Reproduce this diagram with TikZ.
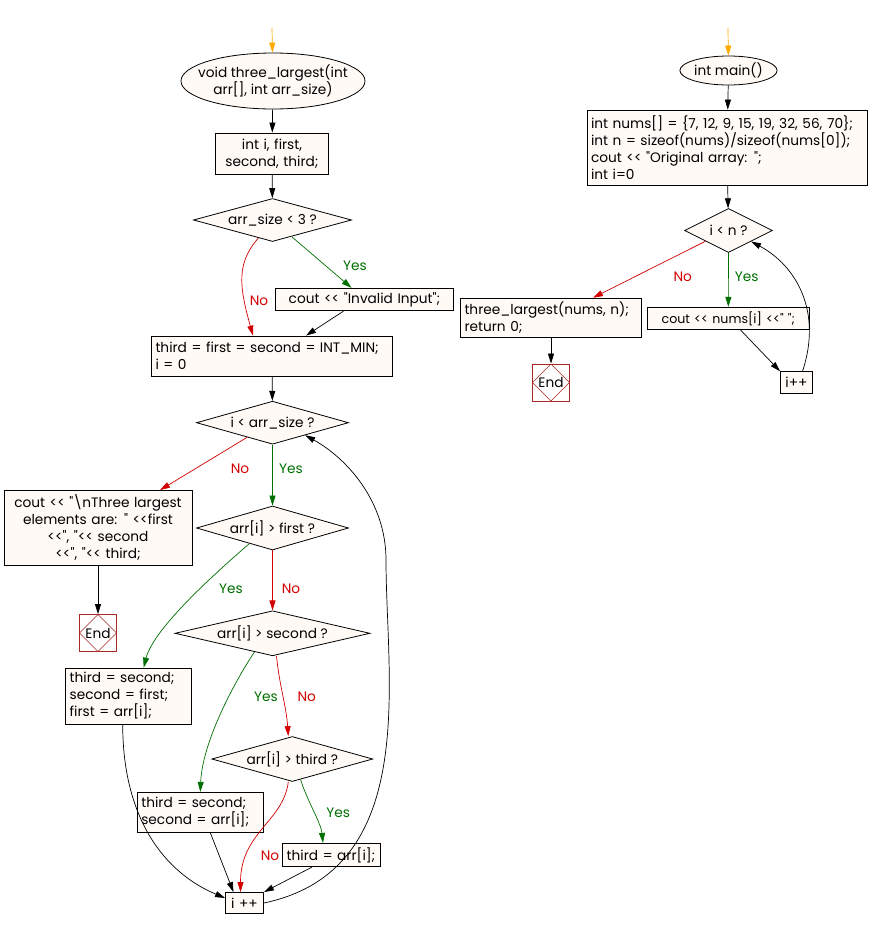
\documentclass[tikz,border=0pt]{standalone}
\usepackage{fontspec}
\setmainfont{Poppins}[Ligatures=TeXOff]
\usepackage{tikz}
\usetikzlibrary{shapes.geometric,arrows.meta}

\definecolor{boxfill}{RGB}{255,250,245}
\definecolor{yesgreen}{RGB}{0,110,0}
\definecolor{nored}{RGB}{210,0,0}
\definecolor{startorange}{RGB}{255,170,0}
\definecolor{endred}{RGB}{170,40,40}

\begin{document}
\begin{tikzpicture}[x=1pt, y=-1pt, font=\fontsize{13.7}{17}\selectfont,
    box/.style={draw, fill=boxfill, line width=0.8pt, inner sep=4pt, align=left},
    cond/.style={diamond, draw, fill=boxfill, line width=0.8pt, inner xsep=0pt, inner ysep=-3pt, aspect=4},
    ell/.style={ellipse, draw, fill=boxfill, line width=0.8pt, inner sep=0pt, align=center},
    endbox/.style={draw=endred, fill=white, line width=0.8pt, minimum width=37, minimum height=37, inner sep=0pt,
        path picture={\draw[endred, line width=0.5pt] (path picture bounding box.north) -- (path picture bounding box.east)
            -- (path picture bounding box.south) -- (path picture bounding box.west) -- cycle;}},
    flow/.style={-{Triangle[length=10pt,width=6pt]}, line width=0.7pt},
    yesline/.style={yesgreen},
    noline/.style={nored},
    startline/.style={startorange},
    yeslab/.style={text=yesgreen},
    nolab/.style={text=nored}]

    \useasboundingbox (0,0) rectangle (872,929);

    \coordinate (top1) at (272,28);
    \node[ell, minimum width=184, minimum height=56, inner xsep=-12pt] (fn) at (273,81) {void three\_largest(int\\arr[], int arr\_size)};
    \node[box, text width=105, minimum height=41, align=center] (decl) at (272,153.5) {int i, first,\\second, third;};
    \node[cond, minimum width=158, minimum height=43] (chk) at (272.5,220) {arr\_size < 3 ?};
    \node[box, text width=170, minimum height=21, align=center] (inval) at (364.5,299.5) {cout << "Invalid Input";};
    \node[box, text width=233, minimum height=40] (init) at (272,356) {third = first = second = INT\_MIN;\\i = 0};
    \node[cond, minimum width=152, minimum height=43] (loop) at (272.5,422.7) {i < arr\_size ?};
    \node[box, text width=180, minimum height=75, align=center] (out) at (98,528)
        {cout << "\textbackslash nThree largest\\elements are: " <<first\\<<", "<< second\\<<", "<< third;};
    \node[endbox] (end1) at (98,633) {End};
    \node[cond, minimum width=152, minimum height=44] (cfirst) at (272.5,528) {arr[i] > first ?};
    \node[cond, minimum width=195, minimum height=45] (csecond) at (272.5,633.3) {arr[i] > second ?};
    \node[box, text width=118, minimum height=56] (upd1) at (128.7,696) {third = second;\\second = first;\\first = arr[i];};
    \node[cond, minimum width=161, minimum height=45] (cthird) at (292.3,759) {arr[i] > third ?};
    \node[box, text width=118, minimum height=40] (upd2) at (200.3,812.3) {third = second;\\second = arr[i];};
    \node[box, text width=94, inner xsep=2pt, minimum height=21.5, align=center] (upd3) at (331,855) {third = arr[i];};
    \node[box, text width=30, minimum height=21, align=center] (inc) at (244.5,903) {i ++};
    \coordinate (back) at (386,560);

    \coordinate (top2) at (728,28);
    \node[ell, minimum width=83, minimum height=29] (main) at (728.5,70.5) {int main()};
    \node[box, text width=272, minimum height=75] (init2) at (727,147.5)
        {int nums[] = \{7, 12, 9, 15, 19, 32, 56, 70\};\\int n = sizeof(nums)/sizeof(nums[0]);\\cout << "Original array: ";\\int i=0};
    \node[cond, minimum width=88, minimum height=44] (ltn) at (728.5,230.5) {i < n ?};
    \node[box, text width=173, minimum height=39] (call) at (551,318) {three\_largest(nums, n);\\return 0;};
    \node[endbox] (end2) at (551,382.5) {End};
    \node[box, text width=154, minimum height=21, align=center, font=\fontsize{12.6}{17}\selectfont] (print) at (728.3,318.3) {cout << nums[i] <<" ";};
    \node[box, text width=24, minimum height=21.6, align=center] (inc2) at (796.5,382.5) {i++};

    \draw[flow, startline] (top1) -- (fn);
    \draw[flow] (fn) -- (decl);
    \draw[flow] (decl) -- (chk);
    \draw[flow, yesline] (chk.-41) -- ([xshift=-13]inval.north);
    \draw[flow, noline] (chk.-128) .. controls +(-22,25) and +(-14,-50) .. ([xshift=-19]init.north);
    \draw[flow] ([xshift=-21]inval.south) -- ([xshift=34]init.north);
    \draw[flow] (init) -- (loop);
    \draw[flow, noline] (loop.-150) -- ([xshift=62]out.north);
    \draw[flow, yesline] (loop) -- (cfirst);
    \draw[flow] (out) -- (end1);
    \draw[flow, yesline] (cfirst.-146) .. controls +(-30,26) and +(10,-40) .. ([xshift=15]upd1.north);
    \draw[flow, noline] (cfirst) -- (csecond);
    \draw[flow, yesline] (csecond.-134) .. controls +(-20,30) and +(2,-50) .. (upd2.north);
    \draw[flow, noline] ([xshift=4]csecond.south) .. controls +(3,30) and +(-2,-30) .. ([xshift=-4]cthird.north);
    \draw[flow, yesline] (cthird.-68) .. controls +(6,20) and +(-2,-20) .. ([xshift=-8]upd3.north);
    \draw[flow, noline] ([xshift=-4]cthird.south) .. controls +(-5,40) and +(0,-60) .. ([xshift=-4]inc.north);
    \draw[flow] ([xshift=-6]upd1.south) .. controls +(0,95) and +(-60,-25) .. ([yshift=5]inc.west);
    \draw[flow] ([xshift=10]upd2.south) -- ([xshift=-11]inc.north);
    \draw[flow] ([xshift=-19]upd3.south) -- (inc.north east);
    \draw[flow] (inc.east) .. controls +(157,-33) and +(0,120) .. (back)
        .. controls +(0,-60) and +(40,22) .. (loop.-21);

    \draw[flow, startline] (top2) -- (main);
    \draw[flow] (main) -- (init2);
    \draw[flow] (init2) -- (ltn);
    \draw[flow, noline] (ltn.-155) -- ([xshift=42]call.north);
    \draw[flow, yesline] (ltn) -- (print);
    \draw[flow] (call) -- (end2);
    \draw[flow] ([xshift=12]print.south) -- (inc2.north west);
    \draw[flow] ([xshift=6]inc2.north) .. controls +(20,-60) and +(45,24) .. (ltn.-26);

    \node[yeslab] (yes1) at (355,266) {Yes};
    \node[nolab] (no1) at (259,300.7) {No};
    \node[nolab] (no2) at (240,469) {No};
    \node[yeslab] (yes2) at (291,469) {Yes};
    \node[yeslab] (yes3) at (231,589) {Yes};
    \node[nolab] (no3) at (291,589) {No};
    \node[yeslab] (yes4) at (266,696.7) {Yes};
    \node[nolab] (no4) at (306.7,696.7) {No};
    \node[yeslab] (yes5) at (338.3,812.7) {Yes};
    \node[nolab] (no5) at (270,855.7) {No};
    \node[nolab] (no6) at (682.7,276.7) {No};
    \node[yeslab] (yes6) at (746.7,276.7) {Yes};
\end{tikzpicture}
\end{document}
